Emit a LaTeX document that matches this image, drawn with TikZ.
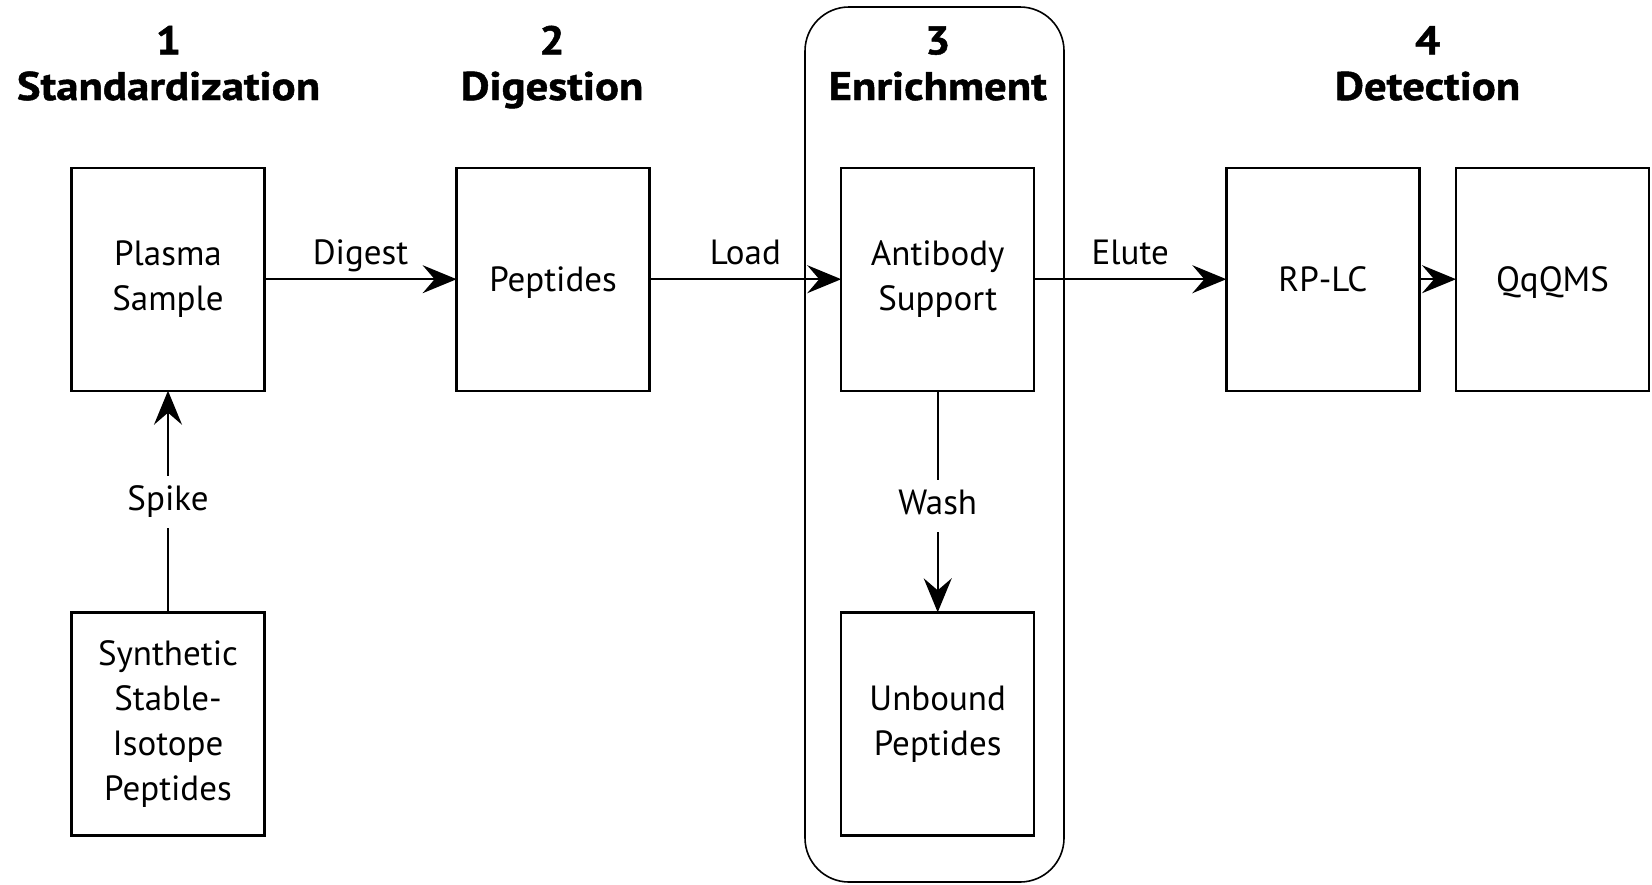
\documentclass[tikz,border=0pt]{standalone}
\usepackage{fontspec}
\setmainfont{PT Sans}
\newfontfamily\hdrfont[FakeStretch=1.12, BoldFeatures={FakeBold=1.2}]{PT Sans}
\usetikzlibrary{arrows.meta}
\begin{document}
\begin{tikzpicture}[x=0.5pt,y=-0.5pt,
  box/.style={draw, line width=1.2pt, minimum width=96.5pt, minimum height=111.5pt,
    inner sep=0pt, outer sep=0pt, align=center, font=\fontsize{17.5}{22.5}\selectfont},
  single/.style={text height=13pt, text depth=1pt},
  hdr/.style={anchor=base, inner sep=0pt, font=\hdrfont\bfseries\fontsize{20}{22}\selectfont},
  lbl/.style={font=\fontsize{17.5}{20}\selectfont, inner sep=0pt, text height=12.5pt, text depth=0pt},
  gaplbl/.style={font=\fontsize{17.5}{20}\selectfont, fill=white, inner sep=0pt,
    text height=12.5pt, text depth=3.5pt, inner ysep=5pt, inner xsep=3pt},
  arr/.style={line width=0.9pt, -{Stealth[length=17pt, width=14pt, inset=6pt]}},
  group/.style={draw, line width=0.8pt, rounded corners=22pt}]
\useasboundingbox (0,0) rectangle (1652,884);

% enrichment group frame
\draw[group] (805,7) rectangle (1064,882);

% headers
\node[hdr] (n1) at (168.5,54.3) {1};
\node[hdr] (t1) at (168.5,100) {Standardization};
\node[hdr] (n2) at (552,54.3) {2};
\node[hdr] (t2) at (552,100) {Digestion};
\node[hdr] (n3) at (937.7,54.3) {3};
\node[hdr] (t3) at (937.7,100) {Enrichment};
\node[hdr] (n4) at (1427.6,54.3) {4};
\node[hdr] (t4) at (1427.6,100) {Detection};

% boxes
\node[box] (plasma) at (168,279.2) {Plasma\\Sample};
\node[box, single] (pept) at (553.1,279.2) {Peptides};
\node[box] (anti) at (937.7,279.2) {Antibody\\Support};
\node[box, single] (rplc) at (1322.8,279.2) {RP-LC};
\node[box, single] (qqq) at (1552.5,279.2) {QqQMS};
\node[box] (synth) at (168,723.8) {Synthetic\\Stable-\\Isotope\\Peptides};
\node[box] (unb) at (937.7,723.8) {Unbound\\Peptides};

% connectors
\draw[arr] (plasma) -- node[lbl, above=7pt] {Digest} (pept);
\draw[arr] (pept) -- node[lbl, above=7pt] {Load} (anti);
\draw[arr] (anti) -- node[lbl, above=7pt] {Elute} (rplc);
\draw[arr] (rplc) -- (qqq);
\draw[arr] (synth) -- node[gaplbl, pos=0.5] {Spike} (plasma);
\draw[arr] (anti) -- node[gaplbl, pos=0.52] {Wash} (unb);
\end{tikzpicture}
\end{document}
